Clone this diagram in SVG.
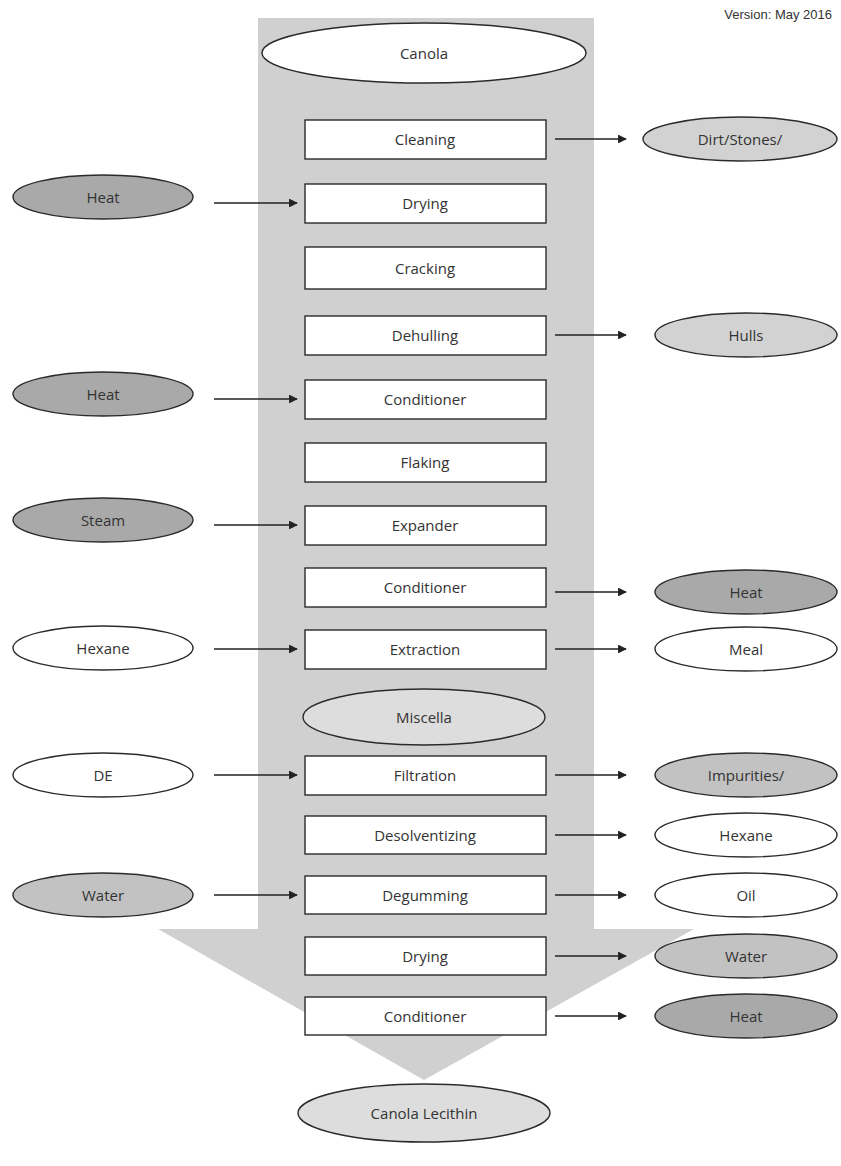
<svg xmlns="http://www.w3.org/2000/svg" width="841" height="1166" viewBox="0 0 841 1166">
<defs>
<style>
.t{font-family:"Open Sans","Noto Sans",sans-serif;font-size:15px;fill:#333;text-anchor:middle;dominant-baseline:central}
.box{fill:#fff;stroke:#2a2a2a;stroke-width:1.4}
.el{stroke:#2a2a2a;stroke-width:1.4}
.w{fill:#fff}.lg{fill:#d2d2d2}.mg{fill:#c2c2c2}.dg{fill:#a9a9a9}.xl{fill:#dddddd}
.arr{stroke:#222;stroke-width:1.6;fill:none;marker-end:url(#ah)}
</style>
<marker id="ah" viewBox="0 0 10 10" refX="9" refY="5" markerWidth="6.5" markerHeight="5.5" orient="auto" markerUnits="strokeWidth">
<path d="M0,0 L10,5 L0,10 z" fill="#222"/>
</marker>
</defs>
<rect width="841" height="1166" fill="#fff"/>
<polygon id="flow" points="258,18 594,18 594,929 694,929 424,1080 158,929 258,929" fill="#d0d0d0"/>
<text x="832" y="19" style="font-family:'Liberation Sans',Arial,sans-serif;font-size:13px;fill:#333" text-anchor="end">Version: May 2016</text>

<g id="canola"><ellipse class="el w" cx="424" cy="53" rx="162" ry="30"/><text class="t" x="424" y="53">Canola</text></g>
<g id="cleaning"><rect class="box" x="305" y="120" width="241" height="39"/><text class="t" x="425" y="139">Cleaning</text></g>
<g id="drying1"><rect class="box" x="305" y="184" width="241" height="39"/><text class="t" x="425" y="203">Drying</text></g>
<g id="cracking"><rect class="box" x="305" y="247" width="241" height="42"/><text class="t" x="425" y="268">Cracking</text></g>
<g id="dehulling"><rect class="box" x="305" y="316" width="241" height="39"/><text class="t" x="425" y="335">Dehulling</text></g>
<g id="conditioner1"><rect class="box" x="305" y="380" width="241" height="39"/><text class="t" x="425" y="399">Conditioner</text></g>
<g id="flaking"><rect class="box" x="305" y="443" width="241" height="39"/><text class="t" x="425" y="462">Flaking</text></g>
<g id="expander"><rect class="box" x="305" y="506" width="241" height="39"/><text class="t" x="425" y="525">Expander</text></g>
<g id="conditioner2"><rect class="box" x="305" y="568" width="241" height="39"/><text class="t" x="425" y="587">Conditioner</text></g>
<g id="extraction"><rect class="box" x="305" y="630" width="241" height="39"/><text class="t" x="425" y="649">Extraction</text></g>
<g id="miscella"><ellipse class="el xl" cx="424" cy="717" rx="121" ry="28"/><text class="t" x="424" y="717">Miscella</text></g>
<g id="filtration"><rect class="box" x="305" y="756" width="241" height="39"/><text class="t" x="425" y="775">Filtration</text></g>
<g id="desolventizing"><rect class="box" x="305" y="816" width="241" height="38"/><text class="t" x="425" y="835">Desolventizing</text></g>
<g id="degumming"><rect class="box" x="305" y="876" width="241" height="38"/><text class="t" x="425" y="895">Degumming</text></g>
<g id="drying2"><rect class="box" x="305" y="937" width="241" height="38"/><text class="t" x="425" y="956">Drying</text></g>
<g id="conditioner3"><rect class="box" x="305" y="997" width="241" height="38"/><text class="t" x="425" y="1016">Conditioner</text></g>
<g id="lecithin"><ellipse class="el xl" cx="424" cy="1113" rx="126" ry="29"/><text class="t" x="424" y="1113">Canola Lecithin</text></g>

<g id="in-heat1"><ellipse class="el dg" cx="103" cy="197" rx="90" ry="22"/><text class="t" x="103" y="197">Heat</text></g>
<g id="in-heat2"><ellipse class="el dg" cx="103" cy="394" rx="90" ry="22"/><text class="t" x="103" y="394">Heat</text></g>
<g id="in-steam"><ellipse class="el dg" cx="103" cy="520" rx="90" ry="22"/><text class="t" x="103" y="520">Steam</text></g>
<g id="in-hexane"><ellipse class="el w" cx="103" cy="648" rx="90" ry="22"/><text class="t" x="103" y="648">Hexane</text></g>
<g id="in-de"><ellipse class="el w" cx="103" cy="775" rx="90" ry="22"/><text class="t" x="103" y="775">DE</text></g>
<g id="in-water"><ellipse class="el mg" cx="103" cy="895" rx="90" ry="22"/><text class="t" x="103" y="895">Water</text></g>

<g id="out-dirt"><ellipse class="el lg" cx="740" cy="139" rx="97" ry="22"/><text class="t" x="740" y="139">Dirt/Stones/</text></g>
<g id="out-hulls"><ellipse class="el lg" cx="746" cy="335" rx="91" ry="22"/><text class="t" x="746" y="335">Hulls</text></g>
<g id="out-heat1"><ellipse class="el dg" cx="746" cy="592" rx="91" ry="22"/><text class="t" x="746" y="592">Heat</text></g>
<g id="out-meal"><ellipse class="el w" cx="746" cy="649" rx="91" ry="22"/><text class="t" x="746" y="649">Meal</text></g>
<g id="out-impurities"><ellipse class="el mg" cx="746" cy="775" rx="91" ry="22"/><text class="t" x="746" y="775">Impurities/</text></g>
<g id="out-hexane"><ellipse class="el w" cx="746" cy="835" rx="91" ry="22"/><text class="t" x="746" y="835">Hexane</text></g>
<g id="out-oil"><ellipse class="el w" cx="746" cy="895" rx="91" ry="22"/><text class="t" x="746" y="895">Oil</text></g>
<g id="out-water"><ellipse class="el mg" cx="746" cy="956" rx="91" ry="22"/><text class="t" x="746" y="956">Water</text></g>
<g id="out-heat2"><ellipse class="el dg" cx="746" cy="1016" rx="91" ry="22"/><text class="t" x="746" y="1016">Heat</text></g>

<g id="connectors">
<line class="arr" x1="214" y1="203" x2="297" y2="203"/>
<line class="arr" x1="214" y1="399" x2="297" y2="399"/>
<line class="arr" x1="214" y1="525" x2="297" y2="525"/>
<line class="arr" x1="214" y1="649" x2="297" y2="649"/>
<line class="arr" x1="214" y1="775" x2="297" y2="775"/>
<line class="arr" x1="214" y1="895" x2="297" y2="895"/>
<line class="arr" x1="555" y1="139" x2="626" y2="139"/>
<line class="arr" x1="555" y1="335" x2="626" y2="335"/>
<line class="arr" x1="555" y1="592" x2="626" y2="592"/>
<line class="arr" x1="555" y1="649" x2="626" y2="649"/>
<line class="arr" x1="555" y1="775" x2="626" y2="775"/>
<line class="arr" x1="555" y1="835" x2="626" y2="835"/>
<line class="arr" x1="555" y1="895" x2="626" y2="895"/>
<line class="arr" x1="555" y1="956" x2="626" y2="956"/>
<line class="arr" x1="555" y1="1016" x2="626" y2="1016"/>
</g>
</svg>
